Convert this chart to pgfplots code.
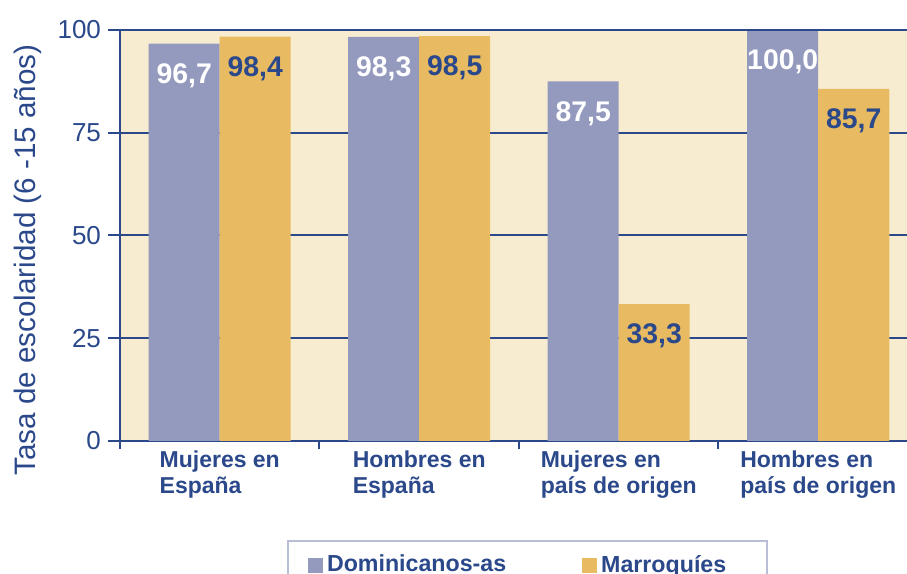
\documentclass[border=0pt]{standalone}
\usepackage{pgfplots}
\pgfplotsset{compat=1.18}
\usepackage{fontspec}
\setmainfont{Liberation Sans}
\definecolor{cream}{RGB}{248,236,208}
\definecolor{lila}{RGB}{148,153,190}
\definecolor{oro}{RGB}{232,187,98}
\definecolor{azul}{RGB}{42,72,138}
\definecolor{marco}{RGB}{184,190,214}
\pgfplotsset{sqlegend/.style={legend image code/.code={\fill[##1,draw=none] (0pt,-3.75pt) rectangle (7.5pt,3.75pt);}}}

\begin{document}
\begin{tikzpicture}
\useasboundingbox (0,0) rectangle (453.5pt,287pt);
\clip (0,0) rectangle (453.5pt,287pt);
\begin{axis}[
  at={(60pt,66.5pt)}, anchor=south west,
  scale only axis,
  width=399pt, height=205.5pt,
  xmin=-0.5, xmax=3.5, ymin=0, ymax=100,
  axis x line*=bottom, axis y line*=left,
  axis line style={azul,line width=1pt},
  axis background/.style={fill=cream},
  ybar=0pt, bar width=35.5pt,
  ytick={0,25,50,75,100},
  ymajorgrids, grid style={azul,line width=1pt},
  tick align=outside,
  major tick length=6pt, minor tick length=4pt,
  tick style={azul,line width=1pt},
  xtick={0,1,2,3},
  xticklabels={{Mujeres en\\España},{Hombres en\\España},{Mujeres en\\país de origen},{Hombres en\\país de origen}},
  major x tick style={draw=none},
  minor xtick={-0.5,0.5,1.5,2.5},
  xticklabel style={align=left,font=\fontsize{11.5}{13}\selectfont\bfseries,text=azul,yshift=4.5pt},
  yticklabel style={font=\fontsize{13}{14}\selectfont,text=azul},
  /pgf/number format/assume math mode=true,
  ylabel={Tasa de escolaridad (6 -15 años)},
  ylabel style={at={(axis description cs:-0.115,0.44)},anchor=center,rotate=0,
    font=\fontsize{14.8}{16}\selectfont,text=azul},
  nodes near coords={\pgfplotspointmeta},
  point meta=explicit symbolic,
  nodes near coords style={font=\fontsize{14.2}{16}\selectfont\bfseries,anchor=center,yshift=-16pt},
  legend style={at={(axis description cs:0.2093,-0.2409)},anchor=north west,
    draw=marco,line width=1pt,fill=white,font=\fontsize{11.6}{14}\selectfont\bfseries,
    text=azul,inner xsep=10pt,inner ysep=5pt,
    /tikz/every even column/.append style={column sep=36pt}},
  legend columns=2,
]
\addplot[fill=lila,draw=none,sqlegend,nodes near coords style={text=white}] coordinates {
  (0,96.7) [96,7] (1,98.3) [98,3] (2,87.5) [87,5] (3,100.0) [100,0]};
\addlegendentry{Dominicanos-as}
\addplot[fill=oro,draw=none,sqlegend,nodes near coords style={text=azul}] coordinates {
  (0,98.4) [98,4] (1,98.5) [98,5] (2,33.3) [33,3] (3,85.7) [85,7]};
\addlegendentry{Marroquíes\rule{8.5pt}{0pt}}
\draw[azul,line width=1pt] (axis cs:-0.5,100) -- (axis cs:3.5,100);
\end{axis}
\end{tikzpicture}
\end{document}
